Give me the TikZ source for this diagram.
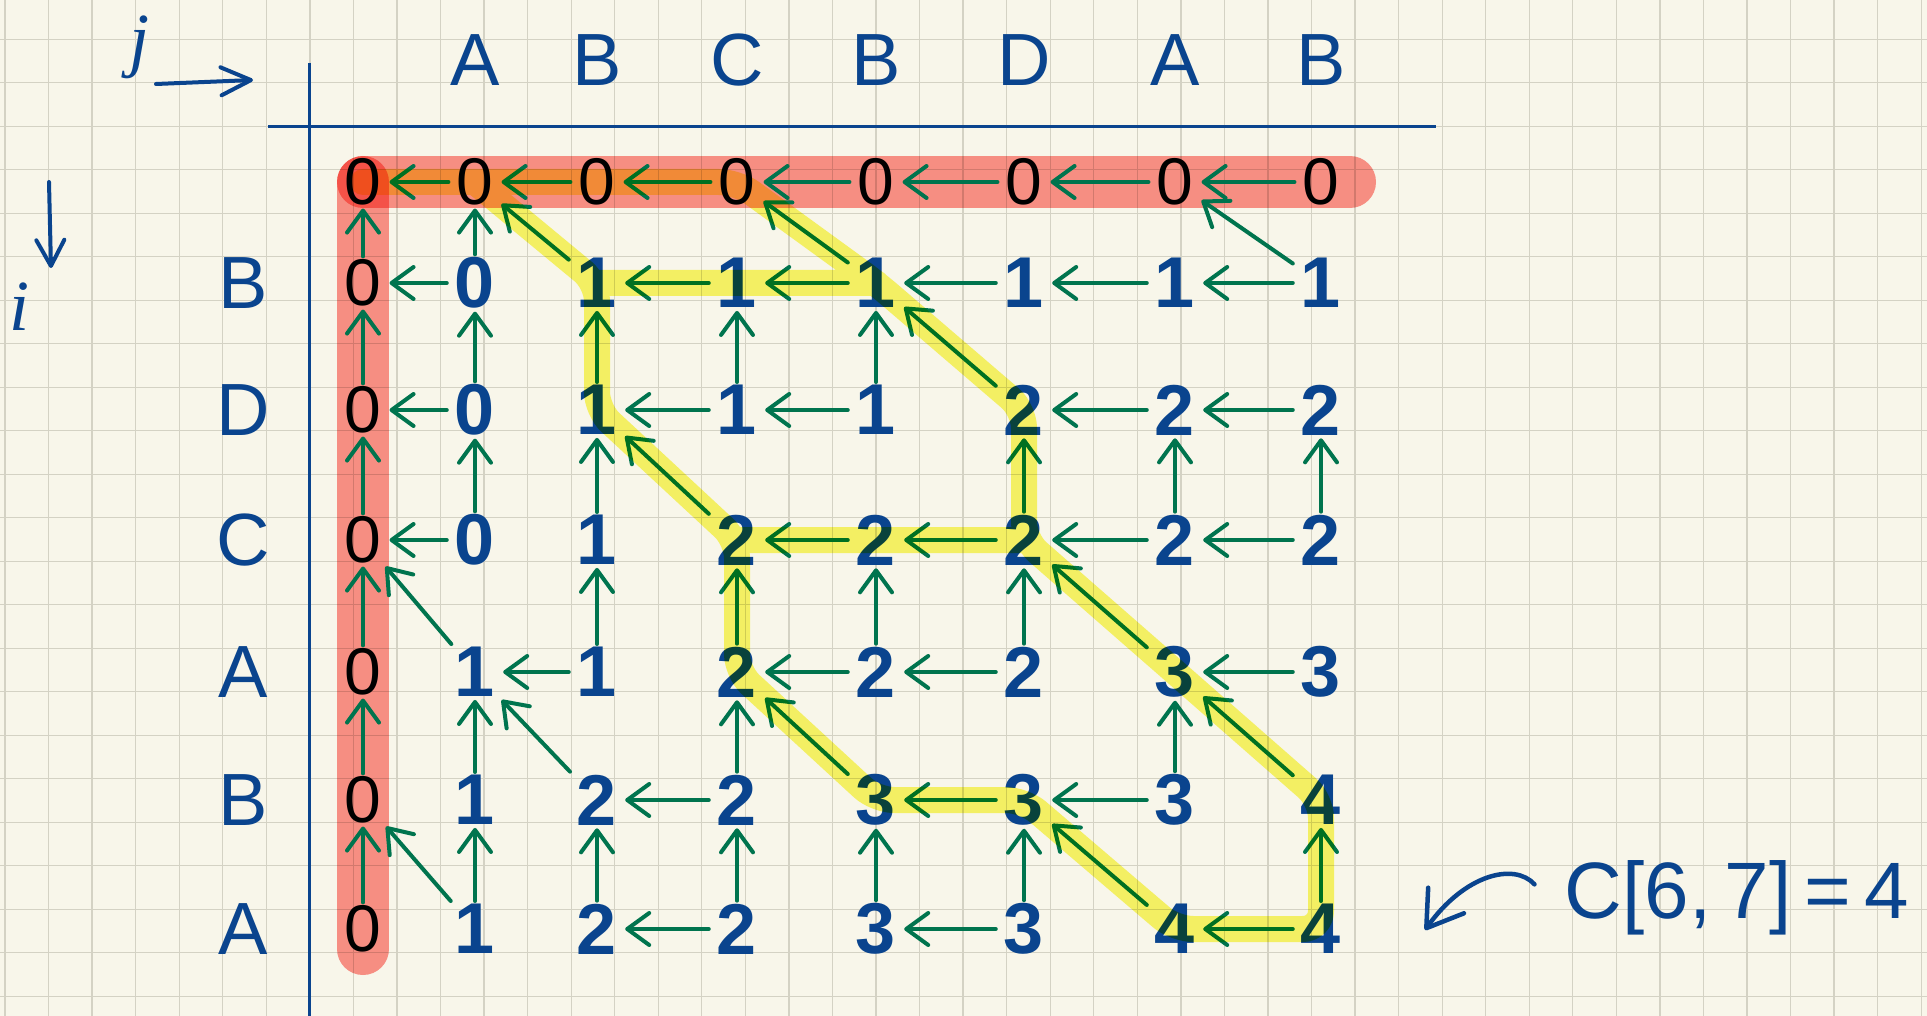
\documentclass[tikz,border=0pt]{standalone}
\usepackage{fontspec}
\setmainfont{Liberation Sans}
\newfontfamily\penfont{Liberation Serif}
\usepackage{tikz}
\usetikzlibrary{arrows.meta,backgrounds}

\definecolor{paper}{RGB}{248,246,234}
\definecolor{gridline}{RGB}{212,210,196}
\definecolor{ink}{RGB}{10,68,142}
\definecolor{tracegreen}{RGB}{0,116,78}
\definecolor{hlyellow}{RGB}{250,248,108}
\definecolor{salmon}{RGB}{253,148,142}

\begin{document}
\begin{tikzpicture}[x=1pt,y=-1pt,
  zero/.style={inner xsep=8pt,inner ysep=3pt,font=\fontsize{66}{70}\selectfont,text=black},
  val/.style={inner xsep=8pt,inner ysep=3pt,font=\fontsize{72}{76}\selectfont\bfseries,text=ink},
  letter/.style={font=\fontsize{74}{80}\selectfont,text=ink},
  hand/.style={font=\fontsize{72}{76}\selectfont\penfont\itshape,text=ink,anchor=base,inner sep=0pt},
  back/.style={-{Straight Barb[length=22pt,width=32pt,round]},line width=4pt,tracegreen,line cap=round},
  pen/.style={ink,line width=4pt,line cap=round},
  tablerule/.style={ink,line width=3pt},
  redband/.style={salmon,line width=52pt,line cap=round},
  highlight/.style={hlyellow,line width=26pt,line cap=round,line join=round,rounded corners=18pt},
]
\useasboundingbox (0,0) rectangle (1927,1016);

% column and row positions (handwritten, so not quite even)
\def\colx{{363,475,597,737,876,1024,1175,1321}}
\def\rowy{{182,283,410,540,672,800,929}}

% axes of the table
\coordinate (rule top) at (309,63);
\coordinate (rule bottom) at (309,1016);
\coordinate (rule left) at (268,127);
\coordinate (rule right) at (1436,127);
\draw[tablerule] (rule top) -- (rule bottom);
\draw[tablerule] (rule left) -- (rule right);

% index directions
\node[hand] (j label) at (140,64) {j};
\node[hand] (i label) at (20,330) {i};
\coordinate (j from) at (156,84);
\coordinate (j to) at (253,80);
\coordinate (i from) at (49,182);
\coordinate (i to) at (51,268);
\draw[pen,-{Straight Barb[length=30pt,width=28pt,round]}] (j from) -- (j to);
\draw[pen,-{Straight Barb[length=26pt,width=28pt,round]}] (i from) -- (i to);

% sequences
\foreach \ch [count=\c] in {A,B,C,B,D,A,B} {
  \pgfmathsetmacro\x{\colx[\c]}
  \node[letter] (head-\c) at (\x,60) {\ch};
}
\foreach \ch [count=\r] in {B,D,C,A,B,A} {
  \pgfmathsetmacro\y{\rowy[\r]}
  \node[letter] (side-\r) at (243,\y) {\ch};
}

% row 0 and column 0
\foreach \c in {0,...,7} {
  \pgfmathsetmacro\x{\colx[\c]}
  \node[zero] (cell-0-\c) at (\x,182) {0};
}
\foreach \r in {1,...,6} {
  \pgfmathsetmacro\y{\rowy[\r]}
  \node[zero] (cell-\r-0) at (363,\y) {0};
}

% the rest of c[i,j]
\foreach \vals [count=\r] in {{0,1,1,1,1,1,1},{0,1,1,1,2,2,2},{0,1,2,2,2,2,2},{1,1,2,2,2,3,3},{1,2,2,3,3,3,4},{1,2,2,3,3,4,4}}
  \foreach \v [count=\c] in \vals {
    \pgfmathsetmacro\x{\colx[\c]}
    \pgfmathsetmacro\y{\rowy[\r]}
    \node[val] (cell-\r-\c) at (\x,\y) {\v};
  }

% arrows to the left
\foreach \r/\c in {0/1,0/2,0/3,0/4,0/5,0/6,0/7,1/1,1/3,1/4,1/5,1/6,1/7,2/1,2/3,2/4,2/6,2/7,3/1,3/4,3/5,3/6,3/7,4/2,4/4,4/5,4/7,5/3,5/5,5/6,6/3,6/5,6/7} {
  \pgfmathtruncatemacro\cc{\c-1}
  \draw[back] (cell-\r-\c) -- (cell-\r-\cc);
}
% arrows up
\foreach \r/\c in {1/0,2/0,3/0,4/0,5/0,6/0,1/1,2/1,2/2,2/3,2/4,3/1,3/2,3/5,3/6,3/7,4/2,4/3,4/4,4/5,5/1,5/3,5/6,6/1,6/2,6/3,6/4,6/5,6/7} {
  \pgfmathtruncatemacro\rr{\r-1}
  \draw[back] (cell-\r-\c) -- (cell-\rr-\c);
}
% arrows up-left (letters match)
\foreach \r/\c in {1/2,1/4,1/7,2/5,3/3,4/1,4/6,5/2,5/4,5/7,6/1,6/6} {
  \pgfmathtruncatemacro\rr{\r-1}
  \pgfmathtruncatemacro\cc{\c-1}
  \draw[back] (cell-\r-\c) -- (cell-\rr-\cc);
}

% yellow marker over the traced paths
\begin{scope}[blend mode=multiply]
\draw[highlight] (cell-0-0.center) -- (cell-0-3.center) -- (cell-1-4.center) -- (cell-2-5.center)
  -- (cell-3-5.center) -- (cell-4-6.center) -- (cell-5-7.center) -- (cell-6-7.center)
  -- (cell-6-6.center) -- (cell-5-5.center) -- (cell-5-4.center) -- (cell-4-3.center)
  -- (cell-3-3.center) -- (cell-2-2.center) -- (cell-1-2.center) -- (cell-0-1.center)
  (cell-1-2.center) -- (cell-1-4.center)
  (cell-3-3.center) -- (cell-3-5.center);
\end{scope}

% the answer
\node[letter,font=\fontsize{80}{86}\selectfont,anchor=base,inner sep=0pt] (answer) at (1737,918) {C[6,\,7]\,=\,4};
\coordinate (answer tip) at (1425,930);
\draw[pen,line width=4.5pt,-{Straight Barb[length=34pt,width=44pt,round]}]
  ([xshift=-30pt,yshift=13pt]answer.west) .. controls +(-20,-22) and +(40,-56) .. (answer tip);

% paper, grid and the red marker underneath
\begin{scope}[on background layer]
\fill[paper] (0,0) rectangle (1927,1016);
\foreach \k in {0,...,44}
  \draw[gridline,line width=1.3pt] ({5+43.55*\k},0) -- ({5+43.55*\k},1016);
\foreach \k in {0,...,22}
  \draw[gridline,line width=1.3pt] (0,{39.3+43.5*\k}) -- (1927,{39.3+43.5*\k});
\begin{scope}[blend mode=multiply]
\draw[redband] (cell-0-0.center) -- (cell-0-7.center) -- ++(29,0);
\draw[redband] (cell-0-0.center) -- (cell-6-0.center) -- ++(0,20);
\end{scope}
\end{scope}

\end{tikzpicture}
\end{document}
